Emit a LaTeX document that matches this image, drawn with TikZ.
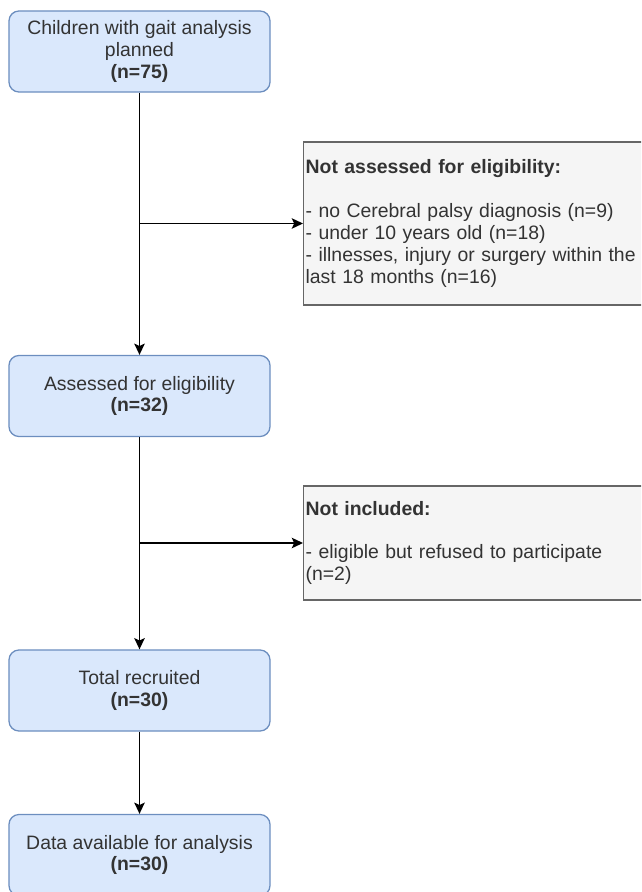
\documentclass[tikz,border=0pt]{standalone}
\usepackage{fontspec}
\setmainfont{Liberation Sans}
\usetikzlibrary{positioning,arrows.meta}
\definecolor{boxfill}{HTML}{DAE8FC}
\definecolor{boxline}{HTML}{6C8EBF}
\definecolor{sidefill}{HTML}{F5F5F5}
\definecolor{sideline}{HTML}{666666}
\definecolor{txtgrey}{HTML}{333333}

\begin{document}
\begin{tikzpicture}[x=0.025cm,y=-0.025cm,
    mainbox/.style={draw=boxline, fill=boxfill, line width=0.9pt, rounded corners=0.25cm,
      minimum width=6.525cm, minimum height=2.025cm, align=center, text=txtgrey,
      font=\fontsize{13.8}{15.6}\selectfont},
    sidebox/.style={draw=sideline, fill=sidefill, line width=0.9pt, anchor=west,
      minimum width=8.675cm, inner xsep=0.05cm, text width=8.575cm, align=left,
      text=txtgrey, font=\fontsize{13.8}{15.6}\selectfont},
    arr/.style={-{Stealth[length=0.28cm,width=0.26cm,inset=0.06cm]}, line width=1.4pt}]
      \clip (0,0) rectangle (641,892);

      % Define the main boxes
      \node[mainbox] (planned) at (139.5, 51.5) {Children with gait analysis\\planned\\\textbf{(n=75)}};
      \node[mainbox] (assessed) at (139.5, 396) {Assessed for eligibility\\\textbf{(n=32)}};
      \node[mainbox] (recruited) at (139.5, 690.5) {Total recruited\\\textbf{(n=30)}};
      \node[mainbox] (analysis) at (139.5, 855) {Data available for analysis\\\textbf{(n=30)}};

      % Define the exclusion boxes
      \node[sidebox, minimum height=4.075cm] (notassessed) at (303, 223.5) {\textbf{Not assessed for eligibility:}\\[15.6pt]
        - no Cerebral palsy diagnosis (n=9)\\
        - under 10 years old (n=18)\\
        - illnesses, injury or surgery within the\\
        last 18 months (n=16)};
      \node[sidebox, minimum height=2.85cm] (notincluded) at (303, 543) {\textbf{Not included:}\\[15.6pt]
        - eligible but refused to participate\\
        (n=2)};

      \coordinate (split1) at (planned.south |- notassessed.west);
      \coordinate (split2) at (assessed.south |- notincluded.west);

      \draw[arr] (planned) -- (assessed);
      \draw[arr] (assessed) -- (recruited);
      \draw[arr] (recruited) -- (analysis);

      \draw[arr] (split1) -- (notassessed.west);
      \draw[arr] (split2) -- (notincluded.west);

\end{tikzpicture}
\end{document}
